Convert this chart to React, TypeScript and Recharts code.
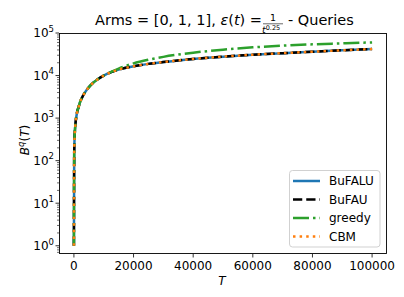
import { Line, LineChart, XAxis, YAxis } from "recharts"

// horizon T and the query count B^q(T)
const horizons = [1, 100, 250, 500, 1000, 1500, 2000, 3000, 4000, 5000, 6500, 8000, 10000, 12500, 15000, 20000, 25000, 30000, 40000, 50000, 60000, 70000, 80000, 90000, 100000]
const bufaluQueries = [1, 150, 380, 700, 1300, 1750, 2300, 3300, 4300, 5300, 6800, 8200, 10000, 12000, 13800, 16500, 18800, 20700, 24600, 27800, 30800, 33600, 36300, 39200, 42000]
const bufauQueries = [1, 150, 380, 700, 1300, 1750, 2300, 3300, 4300, 5300, 6800, 8200, 10000, 12000, 13800, 16500, 18800, 20700, 24600, 27800, 30800, 33600, 36300, 39200, 42000]
const greedyQueries = [1, 150, 380, 700, 1300, 1750, 2300, 3300, 4300, 5300, 6800, 8200, 10000, 12200, 14600, 19300, 23500, 27500, 34500, 40500, 46000, 50500, 54200, 57200, 60000]
const cbmQueries = [1, 150, 380, 700, 1300, 1750, 2300, 3300, 4300, 5300, 6800, 8200, 10000, 12000, 13800, 16500, 18800, 20700, 24600, 27800, 30800, 33600, 36300, 39200, 42000]

const xTicks = [0, 20000, 40000, 60000, 80000, 100000]
const yMajorTicks = [1, 10, 100, 1000, 10000, 100000]
const yMinorTicks = [0.7, 0.8, 0.9].concat(
  [1, 10, 100, 1000, 10000].flatMap((d) => [2, 3, 4, 5, 6, 7, 8, 9].map((m) => m * d))
)

const series = [
  { key: "bufalu", name: "BuFALU", color: "#1f77b4", dash: undefined },
  { key: "bufau", name: "BuFAU", color: "#000000", dash: "9.25 4" },
  { key: "greedy", name: "greedy", color: "#2ca02c", dash: "16 4 2.5 4" },
  { key: "cbm", name: "CBM", color: "#ff7f0e", dash: "2.5 4.1" },
]

const data = horizons.map((t, i) => ({
  t,
  bufalu: bufaluQueries[i],
  bufau: bufauQueries[i],
  greedy: greedyQueries[i],
  cbm: cbmQueries[i],
}))

const font = "'DejaVu Sans', sans-serif"

function LogTick({ x, y, payload }: any) {
  const lg = Math.log10(payload.value)
  const exp = Math.round(lg)
  const major = Math.abs(lg - exp) < 1e-9
  return (
    <g>
      <line x1={x} x2={x - (major ? 3.5 : 2)} y1={y} y2={y} stroke="#000" strokeWidth={major ? 0.8 : 0.6} />
      {major && (
        <text x={x - 5} y={y + 4.3} textAnchor="end" fontSize={12} fill="#000" fontFamily={font}>
          10
          <tspan dy={-5.5} fontSize={8.5}>
            {exp}
          </tspan>
        </text>
      )}
    </g>
  )
}

export default function App() {
  return (
    <div style={{ position: "absolute", left: 0, top: 0, width: 404, height: 297, background: "#fff", fontFamily: font }}>
      <LineChart width={404} height={297} data={data} margin={{ top: 33, right: 17, bottom: 0, left: 0 }}>
        <XAxis
          dataKey="t"
          type="number"
          domain={[-5000, 105000]}
          ticks={xTicks}
          allowDataOverflow
          axisLine={false}
          tickSize={3.5}
          tickMargin={4}
          height={43}
          interval={0}
          tickLine={{ stroke: "#000", strokeWidth: 0.8 }}
          tick={{ fill: "#000", fontSize: 12, fontFamily: font }}
        />
        <YAxis
          type="number"
          scale="log"
          domain={[0.64, 100000]}
          allowDataOverflow
          ticks={[...yMinorTicks, ...yMajorTicks]}
          interval={0}
          width={59}
          axisLine={false}
          tickLine={false}
          tickSize={0}
          tickMargin={0}
          tick={<LogTick />}
        />
        {series.map((s) => (
          <Line
            key={s.key}
            dataKey={s.key}
            type="monotone"
            stroke={s.color}
            strokeWidth={2.5}
            strokeDasharray={s.dash}
            strokeLinecap="butt"
            dot={false}
            isAnimationActive={false}
          />
        ))}
      </LineChart>
      <svg width={404} height={297} style={{ position: "absolute", left: 0, top: 0, pointerEvents: "none" }} fontFamily={font}>
        <rect x={59.5} y={33.5} width={327} height={220} fill="none" stroke="#000" strokeWidth={0.9} />
        <text x={262} y={25} textAnchor="end" fontSize={14.5} fill="#000">
          Arms = [0, 1, 1], <tspan fontStyle="italic">ε</tspan>(<tspan fontStyle="italic">t</tspan>) =
        </text>
        <text x={273} y={21} textAnchor="middle" fontSize={9.5} fill="#000">1</text>
        <line x1={263} x2={283} y1={23.8} y2={23.8} stroke="#000" strokeWidth={0.6} />
        <text x={262} y={33} fontSize={9.5} fill="#000">
          <tspan fontStyle="italic">t</tspan>
          <tspan dy={-3} fontSize={6.5}>0.25</tspan>
        </text>
        <text x={288} y={25} fontSize={14.5} fill="#000">- Queries</text>
        <text transform="translate(28.5,140) rotate(-90)" textAnchor="middle" fontSize={12} fill="#000">
          <tspan fontStyle="italic">B</tspan>
          <tspan dy={-5} fontSize={8.5} fontStyle="italic">q</tspan>
          <tspan dy={5}>(</tspan>
          <tspan fontStyle="italic">T</tspan>)
        </text>
        <text x={222} y={285} textAnchor="middle" fontSize={12} fontStyle="italic" fill="#000">T</text>
        <rect x={289.5} y={170.5} width={90.5} height={76.5} rx={3} fill="#fff" fillOpacity={0.8} stroke="#cccccc" strokeWidth={0.9} />
        {series.map((s, i) => {
          const cy = 181 + i * 18.5
          return (
            <g key={s.key}>
              <line x1={293} x2={320} y1={cy} y2={cy} stroke={s.color} strokeWidth={2.5} strokeDasharray={s.dash} />
              <text x={329} y={cy + 4.3} fontSize={12} fill="#000">{s.name}</text>
            </g>
          )
        })}
      </svg>
    </div>
  )
}
